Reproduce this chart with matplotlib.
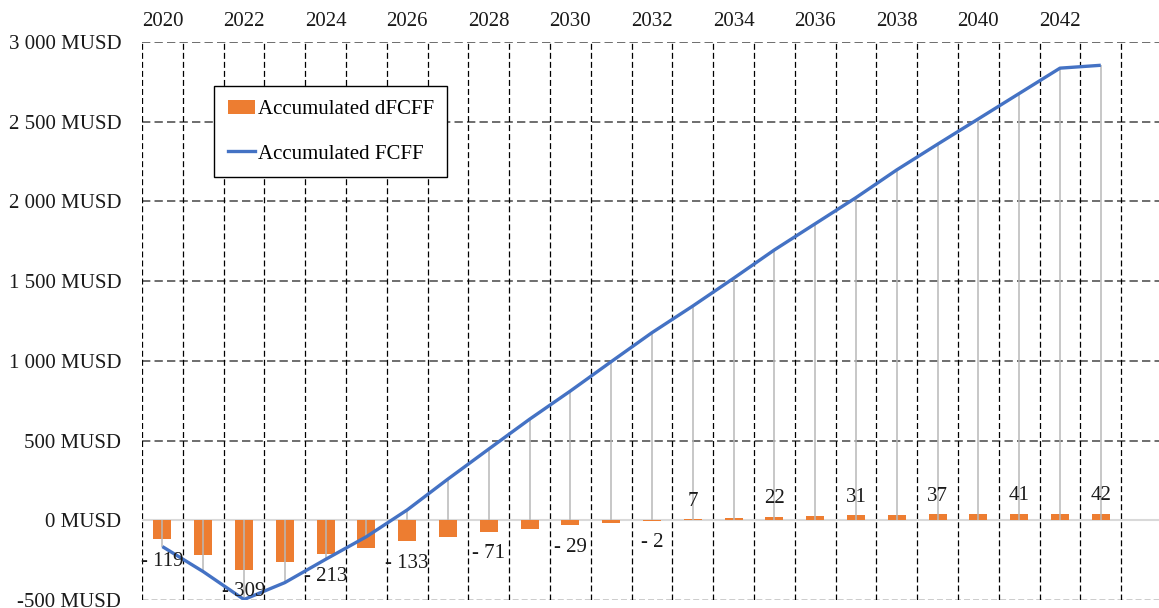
import matplotlib.pyplot as plt
from matplotlib.lines import Line2D
from matplotlib.patches import Patch
from matplotlib.ticker import FuncFormatter

plt.rcParams['font.family'] = ['Liberation Serif', 'DejaVu Serif']
plt.rcParams['lines.scale_dashes'] = False

# Accumulated cash flows per year (MUSD)
years = list(range(2020, 2044))
dfcff = [-119, -220, -309, -261, -213, -174, -133, -103, -71, -52, -29, -14,
         -2, 7, 14, 22, 27, 31, 35, 37, 39, 41, 42, 42]
fcff = [-165, -322, -497, -391, -245, -103, 65, 259, 447, 634, 811, 995,
        1177, 1344, 1518, 1696, 1860, 2024, 2198, 2359, 2518, 2677, 2836, 2854]
label_years = [2020, 2022, 2024, 2026, 2028, 2030, 2032,
               2033, 2035, 2037, 2039, 2041, 2043]
tick_years = list(range(2020, 2043, 2))
y_ticks = list(range(-500, 3001, 500))

FS = 15

fig = plt.figure(figsize=(11.59, 6.08), dpi=100)
ax = fig.add_axes([142 / 1159, 8 / 608, 1020 / 1159, 558 / 608])

ax.set_xlim(years[0] - 0.5, years[-1] + 1.5)
ax.set_ylim(y_ticks[0], y_ticks[-1])

# grid: gray dashed horizontals, black dashed category borders
for v in y_ticks[1:]:
    ax.axhline(v, color='#6e6e6e', lw=1.4, ls=(0, (6, 3)), zorder=1)
ax.axhline(y_ticks[0], color='black', lw=1.0, ls=(0, (4.3, 2.2)), zorder=1)
for y in years + [years[-1] + 1]:
    ax.axvline(y - 0.5, color='black', lw=0.9, ls=(0, (4.3, 2.2)), zorder=1)
ax.axhline(0, color='#d9d9d9', lw=1.5, zorder=2)

ax.bar(years, dfcff, width=0.44, color='#ED7D31', zorder=3)

# drop lines from the FCFF line to the axis
ax.vlines(years, 0, fcff, color='#b8b8b8', lw=1.1, zorder=4)
ax.plot(years, fcff, color='#4472C4', lw=2.4, zorder=5, solid_capstyle='butt')

for y, v in zip(years, dfcff):
    if y not in label_years:
        continue
    txt = f"- {abs(v)}" if v < 0 else f"{v}"
    off = -16 if v < 0 else 13
    ax.annotate(txt, (y, v), xytext=(0, off), textcoords='offset points',
                ha='center', va='center', fontsize=FS, color='#1a1a1a', zorder=6)

ax.xaxis.tick_top()
ax.set_xticks(tick_years)
ax.set_xticklabels([str(y) for y in tick_years])
ax.set_yticks(y_ticks)
ax.yaxis.set_major_formatter(FuncFormatter(
    lambda v, p: f"{int(v):,}".replace(",", " ") + " MUSD"))
ax.tick_params(axis='x', length=0, pad=8, labelsize=FS, labelcolor='#1a1a1a')
ax.tick_params(axis='y', length=0, pad=15, labelsize=FS, labelcolor='#1a1a1a')
for s in ax.spines.values():
    s.set_visible(False)

handles = [Patch(facecolor='#ED7D31', edgecolor='none'),
           Line2D([], [], color='#4472C4', lw=2.4)]
leg = fig.legend(handles, ['Accumulated dFCFF', 'Accumulated FCFF'],
                 loc='upper left', bbox_to_anchor=(214 / 1159, 1 - 86 / 608),
                 fontsize=FS, frameon=True, fancybox=False, framealpha=1,
                 edgecolor='black', borderaxespad=0, borderpad=0.65,
                 labelspacing=1.2, handlelength=1.3, handletextpad=0.15)
leg.get_frame().set_linewidth(1.0)

fig.savefig('out.png', dpi=100)
